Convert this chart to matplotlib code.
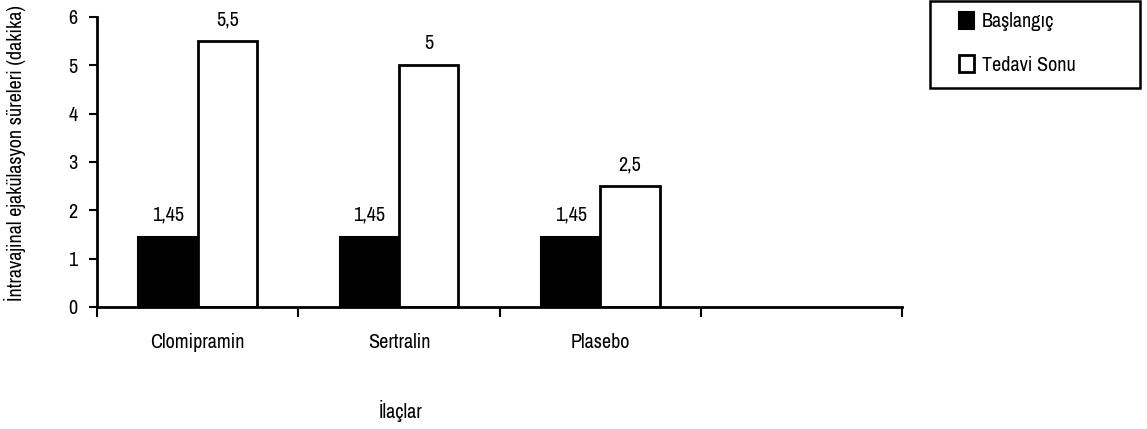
import matplotlib.pyplot as plt
import numpy as np
import matplotlib
from matplotlib.patches import Patch, Rectangle
from matplotlib import font_manager

# pick a narrow sans font if one is installed
avail = set(f.name for f in font_manager.fontManager.ttflist)
narrow = [n for n in ['Liberation Sans Narrow', 'Archivo Narrow', 'PT Sans Narrow',
	'Roboto Condensed', 'Pragati Narrow', 'Liberation Sans'] if n in avail]
matplotlib.rcParams['font.family'] = narrow[:1] + ['DejaVu Sans']
matplotlib.rcParams['font.size'] = 14.5

categories = ['Clomipramin', 'Sertralin', 'Plasebo', '']
baslangic = [1.45, 1.45, 1.45]
tedavi_sonu = [5.5, 5.0, 2.5]
baslangic_labels = ['1,45', '1,45', '1,45']
tedavi_labels = ['5,5', '5', '2,5']
yticks = [0, 1, 2, 3, 4, 5, 6]


def plot_bars():
	fig = plt.figure(figsize=(11.47, 4.29), dpi=100)
	ax = fig.add_axes([0.0846, 0.2844, 0.702, 0.676])

	x = np.arange(len(baslangic))
	w = 0.295
	b1 = ax.bar(x - w / 2, baslangic, w, color='black', edgecolor='black', linewidth=1.5)
	b2 = ax.bar(x + w / 2, tedavi_sonu, w, color='white', edgecolor='black', linewidth=2)

	for rect, lab in zip(b1, baslangic_labels):
		ax.text(rect.get_x() + rect.get_width() / 2, rect.get_height() + 0.25, lab,
			ha='center', va='bottom', clip_on=False)
	for rect, lab in zip(b2, tedavi_labels):
		ax.text(rect.get_x() + rect.get_width() / 2, rect.get_height() + 0.25, lab,
			ha='center', va='bottom', clip_on=False)

	ax.set_xlim(-0.5, len(categories) - 0.5)
	ax.set_ylim(0, 6)
	ax.set_yticks(yticks)
	ax.set_xticks(np.arange(len(categories)))
	ax.set_xticklabels(categories)
	ax.set_xticks(np.arange(len(categories) + 1) - 0.5, minor=True)
	ax.tick_params(axis='x', which='major', length=0, pad=19)
	ax.tick_params(axis='x', which='minor', length=7, width=1.5, direction='out')
	ax.tick_params(axis='y', length=6, width=1.5, direction='out', pad=8)

	for s in ['top', 'right']:
		ax.spines[s].set_visible(False)
	for s in ['left', 'bottom']:
		ax.spines[s].set_linewidth(2)

	ax.set_ylabel('İntravajinal ejakülasyon süreleri (dakika)')
	ax.yaxis.set_label_coords(-0.088, 0.53)
	fig.text(0.349, 0.042, 'İlaçlar', ha='center', va='center')

	# legend box
	fig.patches.append(Rectangle((0.811, 0.795), 0.183, 0.202, transform=fig.transFigure,
		facecolor='white', edgecolor='black', linewidth=1.8, zorder=0))
	handles = [Patch(facecolor='black', edgecolor='black', linewidth=1.5),
		Patch(facecolor='white', edgecolor='black', linewidth=2)]
	fig.legend(handles, ['Başlangıç', 'Tedavi Sonu'], loc='upper left',
		bbox_to_anchor=(0.836, 0.972), frameon=False, handlelength=0.75,
		handleheight=0.9, handletextpad=0.4, labelspacing=1.2,
		borderpad=0, borderaxespad=0)

	plt.savefig('out.png', dpi=100)


if __name__ == '__main__':
	plot_bars()
